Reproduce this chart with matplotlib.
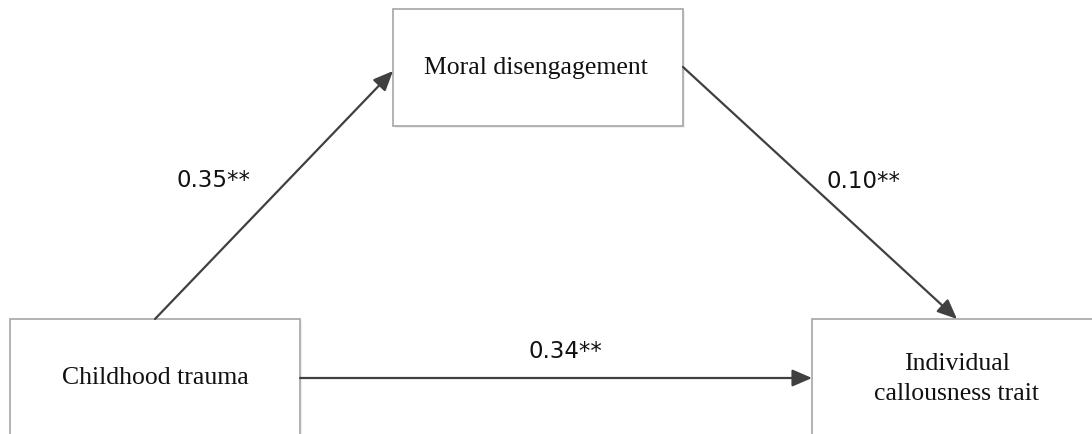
import matplotlib
matplotlib.use("Agg")
import matplotlib.pyplot as plt
from matplotlib.patches import Rectangle, FancyArrowPatch

# Node names and path coefficients
node_labels = ["Moral disengagement", "Childhood trauma", "Individual\ncallousness trait"]
path_labels = ["0.35**", "0.10**", "0.34**"]

W, H = 1092, 435
fig = plt.figure(figsize=(W / 100, H / 100), dpi=100)
ax = fig.add_axes([0, 0, 1, 1])
ax.set_xlim(0, W)
ax.set_ylim(H, 0)
ax.axis("off")

# boxes: (x0, y0, x1, y1) in pixel layout
boxes = [(393, 10, 683, 127), (10, 320, 300, 460), (812, 320, 1110, 460)]
text_pos = [(536, 68), (155, 378), (957, 379)]

for (x0, y0, x1, y1) in boxes:
    # faint shadow
    ax.add_patch(Rectangle((x0 + 2, y0 + 2), x1 - x0, y1 - y0, facecolor="#efefef",
                           edgecolor="none", zorder=1))
    ax.add_patch(Rectangle((x0, y0), x1 - x0, y1 - y0, facecolor="white",
                           edgecolor="#a6a6a6", linewidth=1.2, zorder=2))

for lab, (x, y) in zip(node_labels, text_pos):
    ax.text(x, y, lab, ha="center", va="center", fontsize=18.5,
            family="Liberation Serif", color="#111111", zorder=3, linespacing=1.5)

arrows = [((155, 320), (393, 72)), ((683, 68), (957, 320)), ((300, 379), (812, 379))]
for (p0, p1) in arrows:
    ax.add_patch(FancyArrowPatch(p0, p1, arrowstyle="-|>,head_length=12,head_width=5.2",
                                 mutation_scale=1, color="#404040", linewidth=1.6,
                                 shrinkA=0, shrinkB=0, zorder=4))

label_pos = [(213, 181), (863, 182), (565, 352)]
for lab, (x, y) in zip(path_labels, label_pos):
    ax.text(x, y, lab, ha="center", va="center", fontsize=16.5,
            family="DejaVu Sans", color="#111111", zorder=5)

fig.savefig("out.png", dpi=100, facecolor="white")
